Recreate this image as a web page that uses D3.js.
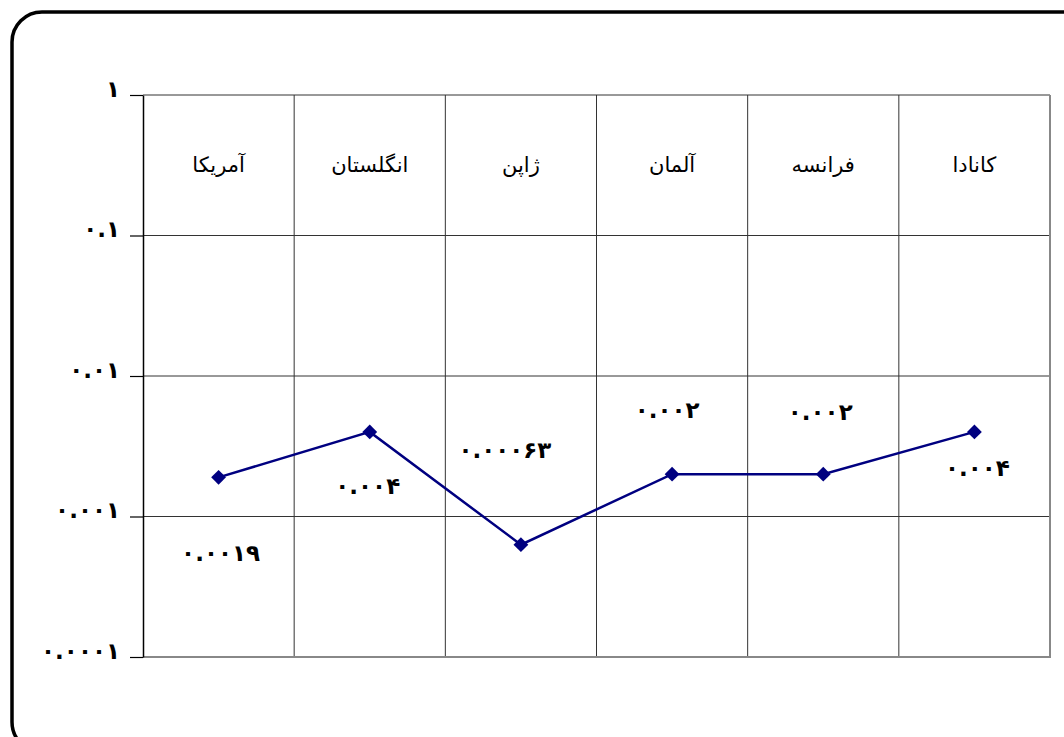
<!DOCTYPE html>
<html><head><meta charset="utf-8">
<script src="https://cdn.jsdelivr.net/npm/d3@7"></script>
<style>body{margin:0;background:#fff}svg{display:block}</style>
</head><body>
<svg id="c" width="1064" height="737"></svg>
<script>
const categories = ["آمریکا","انگلستان","ژاپن","آلمان","فرانسه","کانادا"];
const values = [0.0019, 0.004, 0.00063, 0.002, 0.002, 0.004];
const yTicks = [1, 0.1, 0.01, 0.001, 0.0001];
// label offsets (layout): dx, dy relative to point
const labelOffsets = [[2,76],[-2,54],[-16,-95],[-5,-64],[-3,-62],[3,36]];

const fa = s => s.replace(/\d/g, d => "۰۱۲۳۴۵۶۷۸۹"[+d]);
const decimals = v => { const s = String(v); return s.includes(".") ? s.split(".")[1].length : 0; };
const fmt = v => fa(v.toFixed(decimals(v)));

const svg = d3.select("#c");
svg.append("rect").attr("x",12).attr("y",12).attr("width",1080).attr("height",740)
  .attr("rx",30).attr("fill","#fff").attr("stroke","#000").attr("stroke-width",3.5);

const L=143,R=1050,T=95,B=657;
const x = d3.scaleBand().domain(categories).range([L,R]);
const y = d3.scaleLog().domain([0.0001,1]).range([B,T]);

const g = svg.append("g");
g.selectAll(".vg").data(categories.slice(1)).join("line")
  .attr("x1",d=>x(d)).attr("x2",d=>x(d)).attr("y1",T).attr("y2",B)
  .attr("stroke","#333").attr("stroke-width",1);
g.selectAll(".hg").data(yTicks.slice(0,-1)).join("line")
  .attr("x1",L).attr("x2",R).attr("y1",d=>y(d)).attr("y2",d=>y(d))
  .attr("stroke","#333").attr("stroke-width",1);
g.append("line").attr("x1",R).attr("x2",R).attr("y1",T).attr("y2",B+1).attr("stroke","#888").attr("stroke-width",2);
g.append("line").attr("x1",L).attr("x2",R).attr("y1",B).attr("y2",B).attr("stroke","#888").attr("stroke-width",2);

const numFont = "'DejaVu Sans'";
const yAxis = d3.axisLeft(y).tickValues(yTicks).tickSize(13).tickSizeOuter(0).tickPadding(10)
  .tickFormat(d => fmt(d));
const ya = svg.append("g").attr("transform",`translate(${L},0)`).call(yAxis);
ya.select(".domain").attr("stroke","#000").attr("stroke-width",1.5);
ya.selectAll(".tick line").attr("stroke","#000").attr("stroke-width",1.2);
ya.selectAll(".tick text").attr("font-family",numFont).attr("font-size",23)
  .attr("font-weight","bold").attr("fill","#000").attr("direction","ltr")
  .attr("letter-spacing","5px").attr("dy","0.05em");

svg.selectAll(".cat").data(categories).join("text")
  .attr("x",d=>x(d)+x.bandwidth()/2).attr("y",172).attr("text-anchor","middle")
  .attr("font-family","DejaVu Sans").attr("font-size",21).attr("fill","#000")
  .text(d=>d);

const cx = i => x(categories[i])+x.bandwidth()/2;
svg.append("path").datum(values)
  .attr("d", d3.line().x((d,i)=>cx(i)).y(d=>y(d)))
  .attr("fill","none").attr("stroke","#000080").attr("stroke-width",2.5);
svg.selectAll(".pt").data(values).join("path")
  .attr("d", d3.symbol(d3.symbolSquare, 110))
  .attr("transform",(d,i)=>`translate(${cx(i)},${y(d)}) rotate(45)`)
  .attr("fill","#000080");

svg.selectAll(".dl").data(values).join("text")
  .attr("x",(d,i)=>cx(i)+labelOffsets[i][0]).attr("y",(d,i)=>y(d)+labelOffsets[i][1]+8)
  .attr("text-anchor","middle").attr("direction","ltr")
  .attr("font-family",numFont).attr("font-size",23).attr("font-weight","bold").attr("fill","#000")
  .attr("letter-spacing","5px")
  .text(d=>fmt(d));
</script>
</body></html>
